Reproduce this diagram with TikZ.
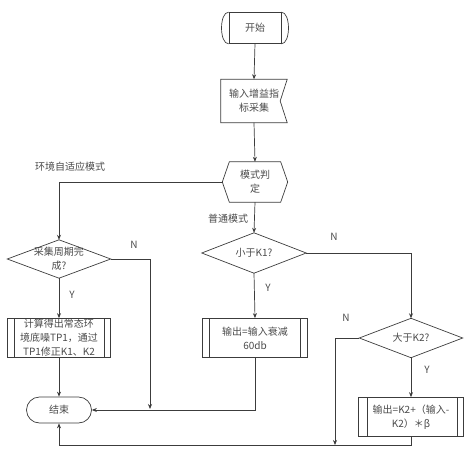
\documentclass[tikz,border=0pt]{standalone}
\usepackage{fontspec}
\setmainfont{Noto Sans CJK SC}
\usetikzlibrary{shapes.misc,arrows.meta}
\definecolor{ln}{HTML}{3C3C3C}
\definecolor{tx}{HTML}{4A4A4A}
\tikzset{
  base/.style={inner sep=0pt, text=tx, align=center, font=\fontsize{10}{14}\selectfont},
  box/.style={base, draw=ln, line width=0.7pt, rectangle},
  ghost/.style={base, rectangle, draw=none},
  lbl/.style={text=tx, inner sep=0pt, font=\fontsize{10}{12}\selectfont},
  conn/.style={draw=ln, line width=0.7pt},
  arr/.style={conn, -{Stealth[length=5pt,width=4pt]}},
  shp/.style={draw=ln, line width=0.7pt}
}
\begin{document}
\begin{tikzpicture}[x=1pt,y=-1pt]
\useasboundingbox (0,0) rectangle (469,450);
% start
\node[box, minimum width=52, minimum height=31] (start) at (255,28) {开始};
\draw[shp] (start.north west) .. controls ([xshift=-9.5]start.north west) and ([xshift=-9.5]start.south west) .. (start.south west);
\draw[shp] (start.north east) .. controls ([xshift=9.5]start.north east) and ([xshift=9.5]start.south east) .. (start.south east);
% input
\node[ghost, minimum width=66, minimum height=43] (inp) at (254,101) {输入增益指\\标采集};
\draw[shp] (inp.north west) -- (inp.north east) -- ([xshift=-7]inp.east) -- (inp.south east) -- (inp.south west) -- cycle;
% mode hexagon
\node[ghost, minimum width=65, minimum height=40] (mode) at (255,182) {模式判\\定};
\draw[shp] ([xshift=7]mode.north west) -- ([xshift=-7]mode.north east) -- (mode.east) -- ([xshift=-7]mode.south east) -- ([xshift=7]mode.south west) -- (mode.west) -- cycle;
% diamonds
\node[ghost, minimum width=103, minimum height=38] (d1) at (59,259) {采集周期完\\成?};
\draw[shp] (d1.north) -- (d1.east) -- (d1.south) -- (d1.west) -- cycle;
\node[ghost, minimum width=104, minimum height=40] (d2) at (254,253) {小于K1?};
\draw[shp] (d2.north) -- (d2.east) -- (d2.south) -- (d2.west) -- cycle;
\node[ghost, minimum width=103, minimum height=39] (d3) at (411,338) {大于K2?};
\draw[shp] (d3.north) -- (d3.east) -- (d3.south) -- (d3.west) -- cycle;
% process boxes
\node[box, minimum width=103, minimum height=39] (p1) at (59,338) {计算得出常态环\\境底噪TP1，通过\\TP1修正K1、K2};
\draw[shp] ([xshift=7]p1.north west) -- ([xshift=7]p1.south west);
\draw[shp] ([xshift=-7]p1.north east) -- ([xshift=-7]p1.south east);
\node[box, minimum width=105, minimum height=39] (p2) at (255,338) {输出=输入衰减\\60db};
\draw[shp] ([xshift=7]p2.north west) -- ([xshift=7]p2.south west);
\draw[shp] ([xshift=-8]p2.north east) -- ([xshift=-8]p2.south east);
\node[box, minimum width=105, minimum height=39] (p3) at (411,417) {输出=K2+（输入-\\K2）＊β};
\draw[shp] ([xshift=9]p3.north west) -- ([xshift=9]p3.south west);
\draw[shp] ([xshift=-7]p3.north east) -- ([xshift=-7]p3.south east);
% end
\node[base, draw=ln, line width=0.7pt, rounded rectangle, minimum width=65, minimum height=26] (end) at (59,410) {结束};
% junctions
\coordinate (j1) at (150,409);
\coordinate (j2) at (335,445);
\coordinate (jb) at (59,445);
% connectors
\draw[arr] (start.south) -- (inp.north);
\draw[arr] (inp.south) -- (mode.north);
\draw[arr] (mode.west) -| (d1.north);
\draw[arr] (mode.south) -- (d2.north);
\draw[arr] (d1.east) -| (j1);
\draw[arr] (d1.south) -- (p1.north);
\draw[arr] (p1.south) -- (end.north);
\draw[arr] (d2.east) -| (d3.north);
\draw[arr] (d2.south) -- (p2.north);
\draw[arr] (p2.south) |- (end.east);
\draw[arr] (d3.west) -| (j2);
\draw[arr] (d3.south) -- (p3.north);
\draw[conn] (p3.south) |- (jb);
\draw[arr] (jb) -- (end.south);
% labels
\node[lbl] (l1) at (70,167) {环境自适应模式};
\node[lbl] (l2) at (228,219) {普通模式};
\node[lbl] (n1) at (134,245) {N};
\node[lbl] (y1) at (72,295) {Y};
\node[lbl] (n2) at (334,237) {N};
\node[lbl] (y2) at (268,288) {Y};
\node[lbl] (n3) at (346,318) {N};
\node[lbl] (y3) at (427,370) {Y};
\end{tikzpicture}
\end{document}
